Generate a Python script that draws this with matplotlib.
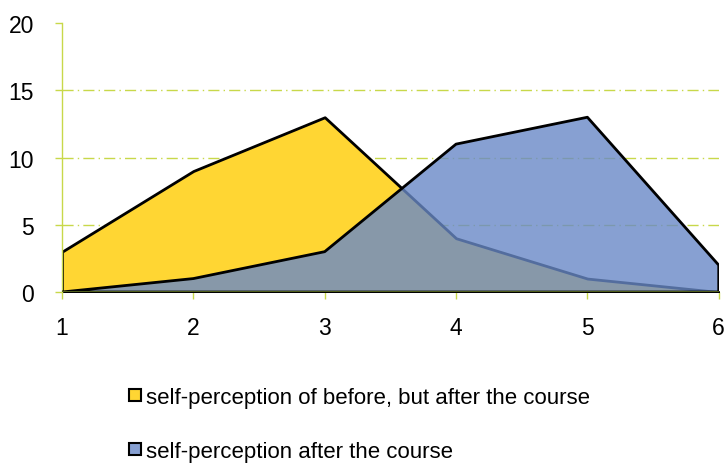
import matplotlib
matplotlib.use("Agg")
import matplotlib.pyplot as plt
from matplotlib.lines import Line2D

plt.rcParams['font.family'] = ['Liberation Sans', 'DejaVu Sans']

x = [1, 2, 3, 4, 5, 6]
before = [3, 9, 13, 4, 1, 0]
after = [0, 1, 3, 11, 13, 2]
labels = ["self-perception of before, but after the course", "self-perception after the course"]
yticks = [0, 5, 10, 15, 20]

yellow = "#FFD633"
blue = (105/255, 137/255, 199/255)
grid_c = "#C8D84A"

fig = plt.figure(figsize=(7.26, 4.64), dpi=100)
ax = fig.add_axes([0.0854, 0.3685, 0.9046, 0.5795])

ax.fill_between(x, before, 0, facecolor=yellow, edgecolor="black", linewidth=2, zorder=2)
ax.fill_between(x, after, 0, facecolor=blue, alpha=0.8, edgecolor="none", zorder=3)
ax.fill_between(x, after, 0, facecolor="none", edgecolor="black", linewidth=2, zorder=4)
ax.plot([1, 6], [0, 0], color="#5a6a20", linewidth=2, zorder=5)

ax.set_xlim(1, 6)
ax.set_ylim(0, 20)
ax.set_yticks(yticks)
ax.set_xticks(x)
for v in yticks[1:-1]:
    ax.axhline(v, color=grid_c, linestyle=(0, (8, 3, 1, 3)), linewidth=1, zorder=1)

for s in ["top", "right", "bottom"]:
    ax.spines[s].set_visible(False)
ax.spines["left"].set_color(grid_c)
ax.spines["left"].set_linewidth(1)
ax.tick_params(axis="both", colors=grid_c, labelcolor="black", labelsize=16.5, length=5, width=1)
ax.tick_params(axis="x", pad=12)
ax.tick_params(axis="y", pad=15)

handles = [Line2D([], [], linestyle="none", marker="s", markersize=8, markerfacecolor=yellow,
                  markeredgecolor="black", markeredgewidth=1.5),
           Line2D([], [], linestyle="none", marker="s", markersize=8,
                  markerfacecolor=(135/255, 160/255, 210/255),
                  markeredgecolor="black", markeredgewidth=1.5)]
fig.legend(handles, labels, loc="center", bbox_to_anchor=(0.496, 0.083), ncol=1, frameon=False,
           fontsize=16, labelspacing=1.5, handlelength=0.5, handletextpad=0.25,
           borderpad=0)

fig.savefig("out.png", dpi=100)
